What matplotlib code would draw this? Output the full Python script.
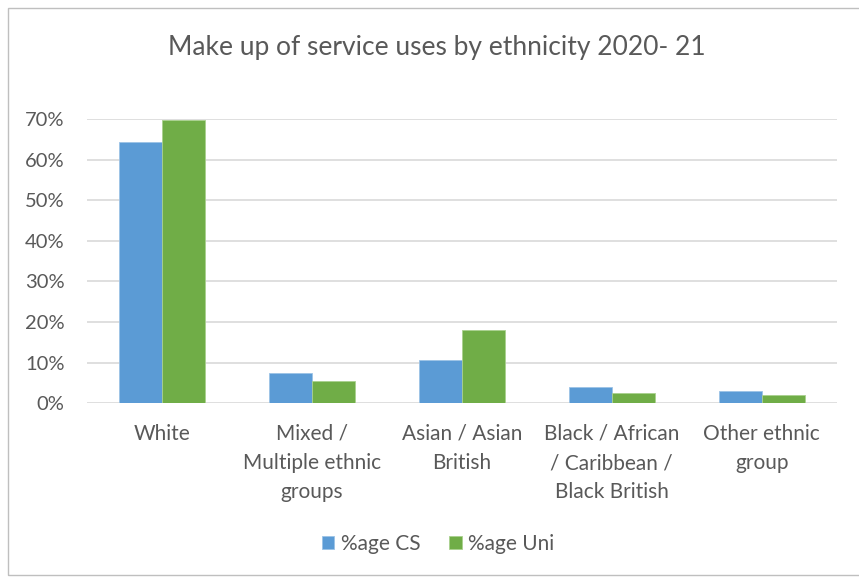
import numpy as np
import matplotlib.pyplot as plt
from matplotlib.patches import Rectangle
from matplotlib.ticker import PercentFormatter

categories = ["White", "Mixed /\nMultiple ethnic\ngroups", "Asian / Asian\nBritish",
              "Black / African\n/ Caribbean /\nBlack British", "Other ethnic\ngroup"]
cs_share = [0.643, 0.075, 0.105, 0.040, 0.030]
uni_share = [0.698, 0.054, 0.180, 0.025, 0.019]

plt.rcParams['font.family'] = ['Lato', 'DejaVu Sans']
grey = '#595959'

fig = plt.figure(figsize=(8.59, 5.80), dpi=100)
ax = fig.add_axes([0.101, 0.305, 0.873, 0.490])

x = np.arange(len(categories))
w = 0.287
ax.bar(x - w / 2, cs_share, w, color='#5b9bd5', edgecolor='#9cc3e6', linewidth=0.6,
       label='%age CS', zorder=3)
ax.bar(x + w / 2, uni_share, w, color='#70ad47', edgecolor='#a9d18e', linewidth=0.6,
       label='%age Uni', zorder=3)

ax.set_xlim(-0.5, len(categories) - 0.5)
ax.set_ylim(0, 0.7)
ax.set_yticks(np.arange(0, 0.71, 0.1))
ax.yaxis.set_major_formatter(PercentFormatter(1.0, decimals=0))
ax.grid(axis='y', color='#d9d9d9', linewidth=1.2, zorder=0)
for s in ax.spines.values():
    s.set_visible(False)
ax.tick_params(length=0, labelcolor=grey)
ax.tick_params(axis='y', pad=16, labelsize=14.5)
ax.tick_params(axis='x', pad=15, labelsize=15)
ax.set_xticks(x)
ax.set_xticklabels(categories, linespacing=1.58, va='top')

fig.text(0.508, 0.918, 'Make up of service uses by ethnicity 2020- 21', ha='center',
         va='center', fontsize=19, color=grey)

fig.legend(loc='center', bbox_to_anchor=(0.51, 0.062), ncol=2, frameon=False,
           fontsize=15, labelcolor=grey, handlelength=0.6, handleheight=0.6,
           handletextpad=0.3, columnspacing=1.4)

fig.patches.append(Rectangle((0.009, 0.008), 0.995, 0.979, transform=fig.transFigure,
                             fill=False, edgecolor='#bfbfbf', linewidth=1.0))

fig.savefig('out.png', dpi=100)
